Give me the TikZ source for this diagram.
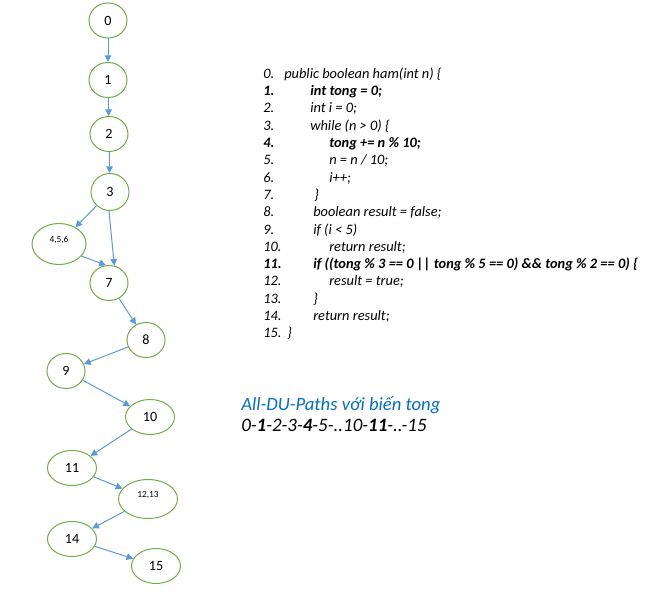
\documentclass[tikz,border=0pt]{standalone}
\usepackage{fontspec}
\setmainfont{Carlito}
\usetikzlibrary{shapes.geometric,arrows.meta}
\definecolor{nodegreen}{RGB}{112,173,71}
\definecolor{edgeblue}{RGB}{91,155,213}
\definecolor{titleblue}{RGB}{0,112,192}

\begin{document}
\begin{tikzpicture}[x=0.75pt,y=-0.75pt,
    vertex/.style={draw=nodegreen,ellipse,line width=0.75pt,inner sep=0pt,
      minimum width=28.5pt,minimum height=26.25pt,font=\fontsize{10.6}{12}\selectfont},
    wide/.style={minimum width=36.75pt},
    edge/.style={draw=edgeblue,line width=0.75pt,-{Triangle[length=5pt,width=5pt]}},
    code/.style={anchor=base west,inner sep=0pt,font=\fontsize{10.8}{12}\selectfont\itshape}]
    \useasboundingbox (0,0) rectangle (653,599);

    % graph
    \node[vertex] (n0) at (108,20.5){0};
    \node[vertex] (n1) at (108,80){1};
    \node[vertex] (n2) at (109,134){2};
    \node[vertex,minimum height=27.75pt] (n3) at (110,192){3};
    \node[vertex,minimum width=40.5pt,minimum height=30.75pt] (n456) at (59,244){\raisebox{1.5pt}[0pt][0pt]{\fontsize{7}{8}\selectfont 4,5,6}};
    \node[vertex] (n7) at (109,283){7};
    \node[vertex] (n8) at (146,340){8};
    \node[vertex] (n9) at (66,371){9};
    \node[vertex,wide] (n10) at (150,417){10};
    \node[vertex,wide] (n11) at (72,468){11};
    \node[vertex,minimum width=44.25pt,minimum height=29.25pt] (n1213) at (148,499){\raisebox{0.8pt}[0pt][0pt]{\fontsize{7}{8}\selectfont 12,13}};
    \node[vertex,wide] (n14) at (72,539){14};
    \node[vertex,wide] (n15) at (156,566){15};

    \draw[edge] (n0) -- (n1);
    \draw[edge] (n1) -- (n2);
    \draw[edge] (n2) -- (n3);
    \draw[edge] (n3) -- (n456);
    \draw[edge] (n3.-93) -- (n7.73);
    \draw[edge] (n456.-28) -- (n7.100);
    \draw[edge] (n7) -- (n8);
    \draw[edge] (n8) -- (n9);
    \draw[edge] (n9) -- (n10);
    \draw[edge] (n10) -- (n11);
    \draw[edge] (n11) -- (n1213);
    \draw[edge] (n1213) -- (n14);
    \draw[edge] (n14) -- (n15);

    % code
    \node[code] (k0) at (263,78.3){0.};
    \node[code] (k1) at (263,95.6){\bfseries 1.};
    \node[code] (k2) at (263,112.9){2.};
    \node[code] (k3) at (263,130.2){3.};
    \node[code] (k4) at (263,147.5){\bfseries 4.};
    \node[code] (k5) at (263,164.8){5.};
    \node[code] (k6) at (263,182.1){6.};
    \node[code] (k7) at (263,199.4){7.};
    \node[code] (k8) at (263,216.7){8.};
    \node[code] (k9) at (263,234.0){9.};
    \node[code] (k10) at (263,251.3){10.};
    \node[code] (k11) at (263,268.6){\bfseries 11.};
    \node[code] (k12) at (263,285.9){12.};
    \node[code] (k13) at (263,303.2){13.};
    \node[code] (k14) at (263,320.5){14.};
    \node[code] (k15) at (263,337.8){15.};

    \node[code] (c0) at (284,78.3){public boolean ham(int n) \{};
    \node[code] (c1) at (310,95.6){\bfseries int tong = 0;};
    \node[code] (c2) at (310,112.9){int i = 0;};
    \node[code] (c3) at (310,130.2){while (n > 0) \{};
    \node[code] (c4) at (329,147.5){\bfseries tong += n \% 10;};
    \node[code] (c5) at (329,164.8){n = n / 10;};
    \node[code] (c6) at (329,182.1){i++;};
    \node[code] (c7) at (314,199.4){\}};
    \node[code] (c8) at (313,216.7){boolean result = false;};
    \node[code] (c9) at (313,234.0){if (i < 5)};
    \node[code] (c10) at (329,251.3){return result;};
    \node[code] (c11) at (313,268.6){\bfseries if ((tong \% 3 == 0 || tong \% 5 == 0) \&\& tong \% 2 == 0) \{};
    \node[code] (c12) at (329,285.9){result = true;};
    \node[code] (c13) at (313,303.2){\}};
    \node[code] (c14) at (313,320.5){return result;};
    \node[code] (c15) at (287,337.8){\}};

    % paths
    \node[code,text=titleblue,font=\fontsize{14}{16}\selectfont\itshape] (title) at (241,410){All-DU-Paths với biến tong};
    \node[code,font=\fontsize{14.2}{16}\selectfont\itshape] (path) at (241,431.7){0-\textbf{1}-2-3-\textbf{4}-5-..10-\textbf{11}-..-15};
\end{tikzpicture}
\end{document}
